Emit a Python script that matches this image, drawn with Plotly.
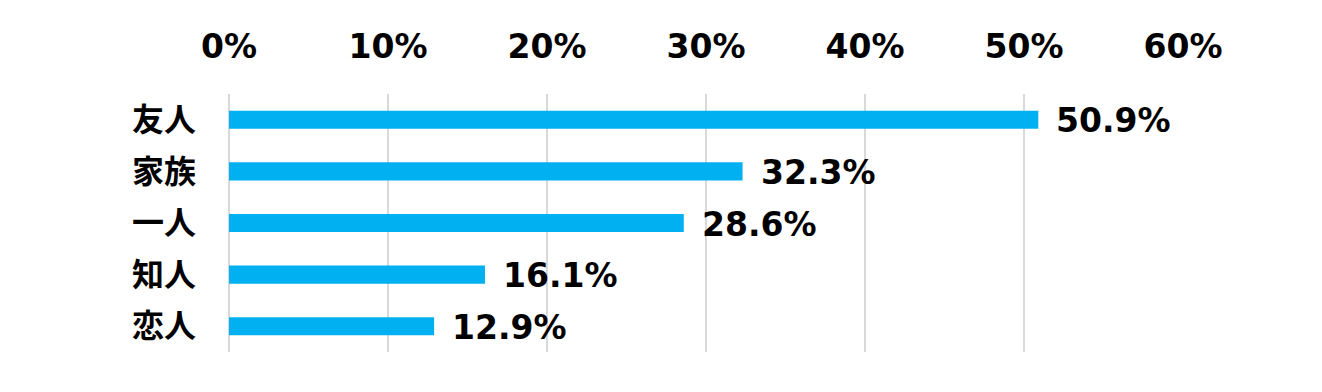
import plotly.graph_objects as go

categories = ["友人", "家族", "一人", "知人", "恋人"]
values = [50.9, 32.3, 28.6, 16.1, 12.9]
tick_vals = [0, 10, 20, 30, 40, 50, 60]
tick_text = ["0%", "10%", "20%", "30%", "40%", "50%", "60%"]

FONT = "DejaVu Sans"
CJK = "Noto Sans CJK JP"

fig = go.Figure()
fig.add_trace(go.Bar(
    x=values, y=categories, orientation="h",
    marker=dict(color="#00B0F0", line=dict(width=0)),
    hoverinfo="skip",
))

for c, v in zip(categories, values):
    fig.add_annotation(
        x=v, y=c, text=f"<b>{v:.1f}%</b>", showarrow=False,
        xanchor="left", yanchor="middle", xshift=16, yshift=-1,
        font=dict(family=FONT, size=33, color="#000000"),
    )

# page body has an 8px default margin at left/top
fig.update_layout(
    width=1314, height=384,
    margin=dict(l=221, r=139, t=86, b=40, autoexpand=False),
    paper_bgcolor="white", plot_bgcolor="white",
    showlegend=False,
    bargap=0.65,
    xaxis=dict(
        range=[0, 60], side="top", tickvals=tick_vals,
        ticktext=[f"<b>{t}</b>" for t in tick_text],
        showgrid=True, gridcolor="#D9D9D9", gridwidth=2,
        zeroline=True, zerolinecolor="#D9D9D9", zerolinewidth=2,
        showline=False, ticks="", ticklabelstandoff=28,
        tickfont=dict(family=FONT, size=33, color="#000000"),
        fixedrange=True, automargin=False,
    ),
    yaxis=dict(
        categoryorder="array", categoryarray=categories[::-1],
        tickvals=categories, ticktext=[f"<b>{c}</b>" for c in categories],
        showgrid=False, zeroline=False, showline=False, ticks="",
        ticklabelstandoff=32,
        tickfont=dict(family=CJK, size=32, color="#000000"),
        fixedrange=True, automargin=False,
    ),
)

fig.write_html("out.html")
